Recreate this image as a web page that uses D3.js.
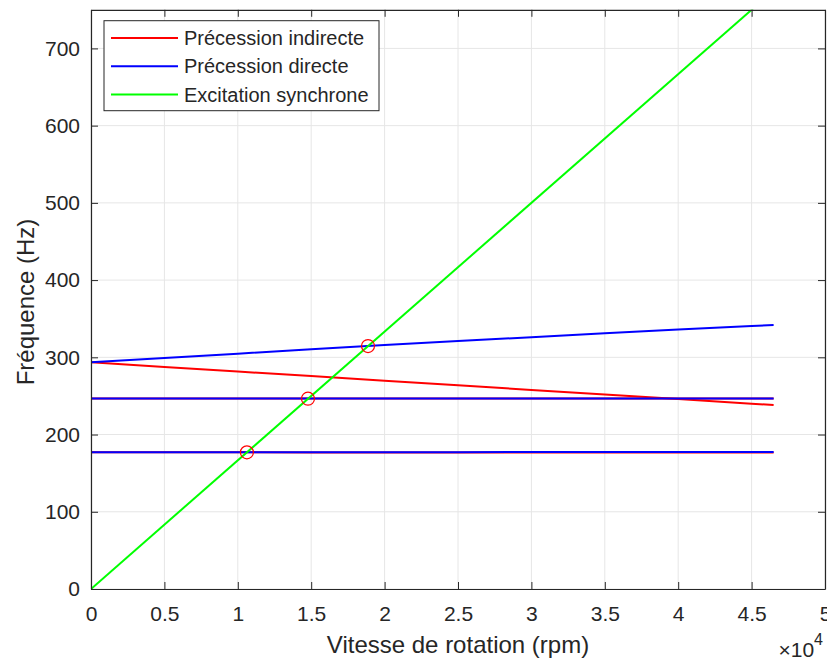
<!DOCTYPE html>
<html><head><meta charset="utf-8">
<script src="https://cdn.jsdelivr.net/npm/d3@7"></script>
<style>body{margin:0;background:#fff}svg text{font-family:"Liberation Sans",Arial,sans-serif;fill:#262626}</style>
</head><body><svg id="c" width="827" height="662"></svg>
<script>
const rpm = [0,5000,10000,15000,20000,25000,30000,35000,40000,45000,46500];
const indirect1 = [177.2,177.1,177.0,176.9,176.9,176.8,176.8,176.7,176.7,176.6,176.6];
const indirect2 = [246.8,246.8,246.8,246.7,246.7,246.7,246.7,246.7,246.6,246.6,246.6];
const indirect3 = [293.5,287.6,281.6,275.7,269.7,263.8,257.8,251.9,245.9,240.0,238.2];
const direct1 = [177.0,177.0,177.1,177.1,177.2,177.2,177.3,177.3,177.3,177.4,177.4];
const direct2 = [246.6,246.6,246.6,246.6,246.7,246.7,246.7,246.7,246.7,246.8,246.8];
const direct3 = [293.5,299.2,304.7,310.3,315.8,321.0,326.1,331.1,335.9,340.6,341.8];
const syncRpm = [0,46500];
const syncHz = syncRpm.map(v=>v/60);
const crossRpm = [10620,14780,18870];
const crossHz = [177.0,246.4,314.6];
const xTicks = [0,5000,10000,15000,20000,25000,30000,35000,40000,45000,50000];
const xTickLabels = ["0","0.5","1","1.5","2","2.5","3","3.5","4","4.5","5"];
const yTicks = [0,100,200,300,400,500,600,700];
const legendLabels = ["Précession indirecte","Précession directe","Excitation synchrone"];
const colors = {red:"#ff0000",blue:"#0000ff",green:"#00ff00"};

const svg = d3.select("#c");
const L=91,R=825,T=9.8,B=589;
const x = d3.scaleLinear().domain([0,50000]).range([L,R]);
const y = d3.scaleLinear().domain([0,750]).range([B,T]);
const ax="#262626";

// grid
const g = svg.append("g");
g.selectAll(".gx").data(xTicks).join("line").attr("x1",d=>x(d)).attr("x2",d=>x(d)).attr("y1",T).attr("y2",B).attr("stroke","#e6e6e6").attr("stroke-width",1);
g.selectAll(".gy").data(yTicks).join("line").attr("y1",d=>y(d)).attr("y2",d=>y(d)).attr("x1",L).attr("x2",R).attr("stroke","#e6e6e6").attr("stroke-width",1);

// data
svg.append("clipPath").attr("id","clip").append("rect").attr("x",L).attr("y",T).attr("width",R-L).attr("height",B-T);
const pl = svg.append("g").attr("clip-path","url(#clip)");
const line = d3.line().x(d=>x(d[0])).y(d=>y(d[1]));
function draw(vals,col,xs){ pl.append("path").datum((xs||rpm).map((r,i)=>[r,vals[i]])).attr("d",line).attr("fill","none").attr("stroke",col).attr("stroke-width",2); }
[indirect1,indirect2,indirect3].forEach(v=>draw(v,colors.red));
[direct1,direct2,direct3].forEach(v=>draw(v,colors.blue));
draw(syncHz,colors.green,syncRpm);
pl.selectAll(".m").data(crossRpm).join("circle").attr("cx",d=>x(d)).attr("cy",(d,i)=>y(crossHz[i])).attr("r",6.5).attr("fill","none").attr("stroke",colors.red).attr("stroke-width",1.2);

// axes
const xa = svg.append("g").attr("transform",`translate(0,${B})`).call(d3.axisBottom(x).tickValues(xTicks).tickFormat((d,i)=>xTickLabels[i]).tickSizeInner(-7).tickSizeOuter(0).tickPadding(17));
const ya = svg.append("g").attr("transform",`translate(${L},0)`).call(d3.axisLeft(y).tickValues(yTicks).tickSizeInner(-7).tickSizeOuter(0).tickPadding(11));
const xt = svg.append("g").attr("transform",`translate(0,${T})`).call(d3.axisTop(x).tickValues(xTicks).tickFormat("").tickSizeInner(-7).tickSizeOuter(0));
const yr = svg.append("g").attr("transform",`translate(${R},0)`).call(d3.axisRight(y).tickValues(yTicks).tickFormat("").tickSizeInner(-7).tickSizeOuter(0));
[xa,ya,xt,yr].forEach(a=>{a.select(".domain").attr("stroke",ax).attr("stroke-width",1.2);a.selectAll(".tick line").attr("stroke",ax);a.selectAll("text").attr("font-size",21).attr("fill",ax).attr("font-family","Liberation Sans, Arial, sans-serif");});

// labels
svg.append("text").attr("x",(L+R)/2).attr("y",653).attr("text-anchor","middle").attr("font-size",24).text("Vitesse de rotation (rpm)");
svg.append("text").attr("transform","translate(34,302) rotate(-90)").attr("text-anchor","middle").attr("font-size",24).text("Fréquence (Hz)");
const ex = svg.append("text").attr("x",R-2).attr("y",657).attr("text-anchor","end").attr("font-size",21);
ex.append("tspan").text("×10");
ex.append("tspan").attr("dy",-12).attr("font-size",16).text("4");

// legend
const lg = svg.append("g");
lg.append("rect").attr("x",104).attr("y",20.7).attr("width",275).attr("height",90).attr("fill","#fff").attr("stroke",ax).attr("stroke-width",1);
const lcols=[colors.red,colors.blue,colors.green];
legendLabels.forEach((t,i)=>{
  const yy = 38+i*28.3;
  lg.append("line").attr("x1",111).attr("x2",178).attr("y1",yy).attr("y2",yy).attr("stroke",lcols[i]).attr("stroke-width",2);
  lg.append("text").attr("x",184).attr("y",yy).attr("dy","0.35em").attr("font-size",20).text(t);
});
</script></body></html>
